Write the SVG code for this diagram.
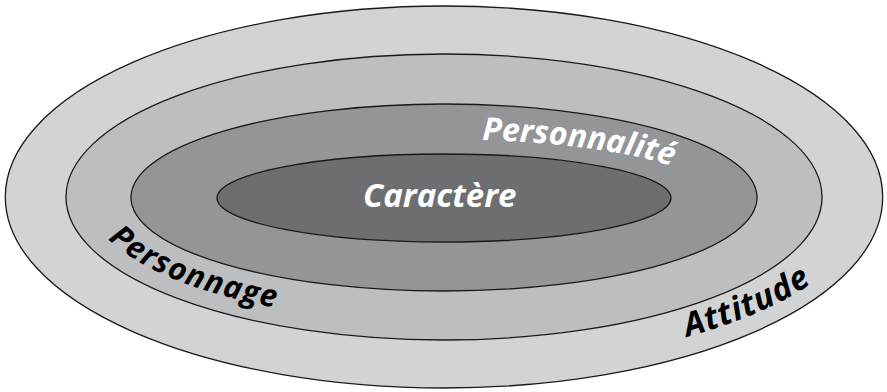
<svg xmlns="http://www.w3.org/2000/svg" xmlns:xlink="http://www.w3.org/1999/xlink" width="887" height="392" viewBox="0 0 887 392">
  <style>
    .ring { stroke: #1a1a1a; stroke-width: 1.3; }
    .label { font-family: "Open Sans", "Noto Sans", "Liberation Sans", sans-serif; font-style: italic; font-weight: 700; }
    .light { fill: #ffffff; }
    .dark { fill: #000000; }
  </style>
  <defs>
    <!-- baselines for the curved labels, concentric with the rings -->
    <path id="arc-personnalite" d="M 482 140 A 270 57.6 0 0 1 714 197" fill="none"/>
    <path id="arc-personnage" d="M 108 239 A 356.5 125.6 0 0 0 444 322.6" fill="none"/>
    <path id="arc-attitude" d="M 687 337 A 426.7 170.3 0 0 0 870.7 197" fill="none"/>
  </defs>

  <g id="attitude">
    <ellipse class="ring" cx="444" cy="197" rx="438.7" ry="191" fill="#d1d3d4"/>
    <text class="label dark" font-size="33" letter-spacing="1"><textPath xlink:href="#arc-attitude" href="#arc-attitude">Attitude</textPath></text>
  </g>

  <g id="personnage">
    <ellipse class="ring" cx="444" cy="197" rx="378" ry="143" fill="#bcbec0"/>
    <text class="label dark" font-size="31" letter-spacing="1.2"><textPath xlink:href="#arc-personnage" href="#arc-personnage">Personnage</textPath></text>
  </g>

  <g id="personnalite">
    <ellipse class="ring" cx="444" cy="197.5" rx="313" ry="93.5" fill="#939598"/>
    <text class="label light" font-size="32" letter-spacing="0"><textPath xlink:href="#arc-personnalite" href="#arc-personnalite">Personnalité</textPath></text>
  </g>

  <g id="caractere">
    <ellipse class="ring" cx="444" cy="198" rx="227" ry="44" fill="#6d6e71"/>
    <text class="label light" font-size="33" x="363" y="207">Caractère</text>
  </g>
</svg>
